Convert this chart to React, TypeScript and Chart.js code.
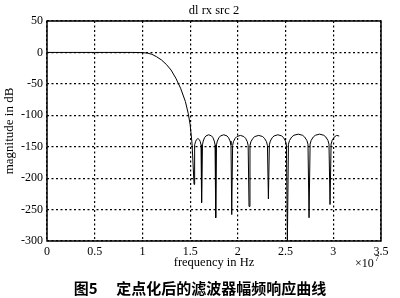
import React, { useEffect, useRef } from 'react';
import { Chart, registerables } from 'chart.js';

Chart.register(...registerables);

// frequency in units of 1e7 Hz
const freqE7 = [
  0, 0.5, 0.9, 1.0, 1.05, 1.1, 1.15, 1.2, 1.25, 1.3, 1.35, 1.4, 1.45, 1.48, 1.5, 1.52,
  1.541,
  1.545, 1.549, 1.557, 1.565, 1.5815, 1.598, 1.606, 1.614, 1.618,
  1.622,
  1.629, 1.637, 1.651, 1.666, 1.695, 1.724, 1.739, 1.753, 1.761,
  1.768,
  1.776, 1.785, 1.802, 1.818, 1.852, 1.886, 1.902, 1.919, 1.928,
  1.936,
  1.945, 1.954, 1.972, 1.99, 2.0265, 2.063, 2.081, 2.099, 2.108,
  2.117,
  2.127, 2.137, 2.158, 2.178, 2.2185, 2.259, 2.279, 2.3, 2.31,
  2.32,
  2.33, 2.34, 2.36, 2.38, 2.4195, 2.459, 2.479, 2.499, 2.509,
  2.519,
  2.53, 2.542, 2.564, 2.587, 2.6325, 2.678, 2.7, 2.723, 2.735,
  2.746,
  2.757, 2.768, 2.79, 2.812, 2.856, 2.9, 2.922, 2.944, 2.955,
  2.966,
  2.977, 2.988, 3.01, 3.035, 3.062,
];

// magnitude in dB
const magDb = [
  0, 0, 0, -0.3, -1, -3, -7, -12, -19, -28, -41, -57, -78, -97, -115, -145,
  -210,
  -153, -147, -142, -139, -137, -139, -142, -147, -153,
  -239,
  -147, -141, -135.6, -132.8, -131, -132.8, -135.6, -141, -147,
  -263,
  -147, -141, -135.6, -132.8, -131, -132.8, -135.6, -141, -147,
  -258,
  -148, -142, -136.6, -133.8, -132, -133.8, -136.6, -142, -148,
  -245,
  -148, -142, -136.6, -133.8, -132, -133.8, -136.6, -142, -148,
  -233,
  -147, -141, -135.6, -132.8, -131, -132.8, -135.6, -141, -147,
  -300,
  -146, -140, -134.6, -131.8, -130, -131.8, -134.6, -140, -146,
  -263,
  -146, -140, -134.6, -131.8, -130, -131.8, -134.6, -140, -146,
  -242,
  -146, -140, -134.6, -132, -133,
];

const xTickValues = [0, 0.5, 1, 1.5, 2, 2.5, 3, 3.5];
const yTickValues = [-300, -250, -200, -150, -100, -50, 0, 50];

const chartTitle = 'dl rx src 2';
const xAxisTitle = 'frequency in Hz';
const yAxisTitle = 'magnitude in dB';
const xExponentBase = '×10';
const xExponent = '7';
const caption = '图5\u3000 定点化后的滤波器幅频响应曲线';

const SERIF = "'Liberation Serif', 'Times New Roman', serif";

const framePlugin = {
  id: 'framePlugin',
  afterDraw(chart: any) {
    const { ctx, chartArea } = chart;
    ctx.save();
    ctx.strokeStyle = '#000';
    ctx.lineWidth = 1.5;
    ctx.setLineDash([]);
    ctx.strokeRect(chartArea.left, chartArea.top, chartArea.right - chartArea.left, chartArea.bottom - chartArea.top);
    ctx.fillStyle = '#000';
    ctx.textBaseline = 'middle';
    ctx.textAlign = 'left';
    ctx.font = `12px ${SERIF}`;
    const w = ctx.measureText(xExponentBase).width;
    const x0 = chartArea.right - 26;
    ctx.fillText(xExponentBase, x0, 264);
    ctx.font = `9px ${SERIF}`;
    ctx.fillText(xExponent, x0 + w + 1, 259);
    ctx.restore();
  },
};

export default function App() {
  const canvasRef = useRef<HTMLCanvasElement | null>(null);

  useEffect(() => {
    const canvas = canvasRef.current;
    if (!canvas) return;
    const points = freqE7.map((f, i) => ({ x: f, y: magDb[i] }));
    const chart = new Chart(canvas, {
      type: 'scatter',
      data: {
        datasets: [
          {
            data: points,
            showLine: true,
            borderColor: '#000',
            backgroundColor: '#000',
            borderWidth: 1,
            pointRadius: 0,
            tension: 0,
            fill: false,
          },
        ],
      },
      options: {
        responsive: false,
        animation: false,
        devicePixelRatio: 1,
        layout: { padding: 0 },
        plugins: {
          legend: { display: false },
          tooltip: { enabled: false },
          title: {
            display: true,
            text: chartTitle,
            fullSize: false,
            color: '#000',
            font: { family: SERIF, size: 12.5, weight: 'normal', lineHeight: 1.2 },
            padding: { top: 3.5, bottom: 2.5 },
          },
          subtitle: {
            display: true,
            position: 'bottom',
            text: caption,
            color: '#000',
            font: { family: "'Noto Sans CJK SC', sans-serif", size: 15, weight: 'bold', lineHeight: 1.2 },
            padding: { top: 0, bottom: 1 },
          },
        },
        scales: {
          x: {
            type: 'linear',
            min: 0,
            max: 3.5,
            afterBuildTicks: (s: any) => {
              s.ticks = xTickValues.map((v) => ({ value: v }));
            },
            afterFit: (s: any) => {
              s.height = 38;
            },
            ticks: {
              color: '#000',
              font: { family: SERIF, size: 12 },
              padding: 4,
              maxRotation: 0,
              autoSkip: false,
              callback: (v: any) => String(v),
            },
            grid: { color: '#000', lineWidth: 1.2, drawTicks: false },
            border: { display: false, dash: [2, 2.5] },
            title: {
              display: true,
              text: xAxisTitle,
              color: '#000',
              font: { family: SERIF, size: 12.5, lineHeight: 1.2 },
              padding: { top: 0, bottom: 8.5 },
            },
          },
          y: {
            type: 'linear',
            min: -300,
            max: 50,
            afterBuildTicks: (s: any) => {
              s.ticks = yTickValues.map((v) => ({ value: v }));
            },
            afterFit: (s: any) => {
              s.width = 47;
            },
            ticks: {
              color: '#000',
              font: { family: SERIF, size: 12 },
              padding: 4,
              autoSkip: false,
              callback: (v: any) => String(v),
            },
            grid: { color: '#000', lineWidth: 1.2, drawTicks: false },
            border: { display: false, dash: [2, 2.5] },
            title: {
              display: true,
              text: yAxisTitle,
              color: '#000',
              font: { family: SERIF, size: 13, lineHeight: 1.2 },
              padding: { top: 2, bottom: 0 },
            },
          },
          y2: {
            type: 'linear',
            position: 'right',
            display: true,
            min: 0,
            max: 1,
            afterFit: (s: any) => {
              s.width = 19;
            },
            ticks: { display: false },
            grid: { display: false, drawTicks: false },
            border: { display: false },
            title: { display: false },
          },
        },
      },
      plugins: [framePlugin],
    } as any);
    return () => {
      chart.destroy();
    };
  }, []);

  return (
    <div style={{ position: 'fixed', left: 0, top: 0, width: 400, height: 298, background: '#fff' }}>
      <canvas ref={canvasRef} width={400} height={298} style={{ display: 'block', width: 400, height: 298 }} />
    </div>
  );
}
